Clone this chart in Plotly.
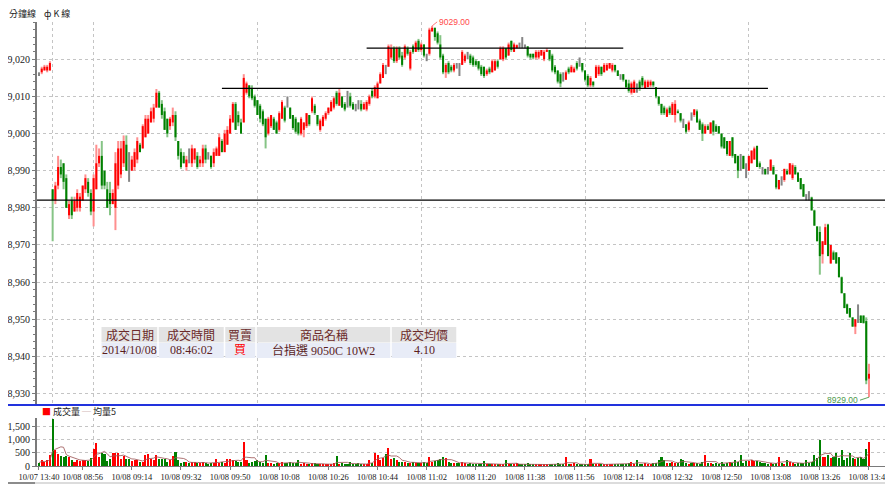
import plotly.graph_objects as go
import pandas as pd

# ---------------- data ----------------
opens = [
    9016, 9016.5, 9017, 9017, 9017, 8985, 8982, 8986, 8991, 8992,
    8988, 8978, 8982, 8979, 8980, 8980, 8982, 8985, 8987, 8984,
    8979, 8985, 8992, 8994, 8990, 8985, 8984, 8981, 8980, 8986,
    8989, 8992, 8997, 8993, 8990, 8991, 8993, 8997, 8996, 8999,
    9000, 9003, 9004, 9007, 9011, 9008, 9006, 9004, 9002, 9003,
    9005, 8998, 8995, 8994, 8991, 8993, 8992, 8993, 8994, 8992,
    8992, 8996, 8993, 8994, 8992, 8994, 8994, 8998, 8995, 8997,
    9000, 9003, 9008, 9005, 9003, 9003, 9011, 9013, 9012, 9010,
    9009, 9007.5, 9006, 9004, 9000, 9002, 9004, 9003, 9001, 9004,
    9007, 9008, 9007, 9005, 9004, 9003, 9000, 9001, 9002, 9005,
    9006, 9007.5, 9005, 9001, 9002, 9004, 9005.5, 9006, 9007, 9011,
    9007.5, 9010, 9008, 9008, 9010, 9008, 9007, 9008, 9008, 9006.5,
    9006.5, 9008, 9011.5, 9010, 9009.5, 9013.5, 9015, 9017.5, 9018, 9020.5,
    9023, 9019.5, 9023, 9021, 9020.5, 9023, 9017.5, 9023.5, 9022, 9025,
    9022.5, 9024, 9021, 9021.5, 9027.5, 9028.5, 9027, 9024, 9021, 9016.5,
    9019, 9018, 9017, 9018, 9018, 9018.5, 9019.5, 9021, 9021, 9020.5,
    9019.5, 9019.5, 9018, 9018, 9016, 9017.5, 9016.5, 9017, 9019.5, 9020,
    9020, 9023, 9021, 9025, 9022, 9023, 9024, 9024, 9023.5, 9023.5,
    9021.5, 9021.5, 9020.5, 9020.5, 9021, 9020, 9022, 9022.5, 9021, 9018,
    9017, 9016, 9015.5, 9014.5, 9017.5, 9016.5, 9016.5, 9019, 9019, 9019,
    9017, 9015.5, 9013, 9014, 9015, 9016, 9018, 9016.5, 9017, 9017.5,
    9017, 9018.5, 9017, 9015.5, 9016, 9014.5, 9013.5, 9011, 9011, 9013,
    9014, 9015, 9012, 9012.5, 9013, 9014, 9012.5, 9010, 9008, 9007,
    9004.5, 9007, 9005, 9005, 9006, 9005.5, 9003, 9002.5, 9001, 9004.5,
    9005, 9006, 9003.5, 9002.5, 9000, 9002, 9000, 9003.5, 9002, 9002,
    9000, 8999, 8998, 8994, 8999, 8994.5, 8994, 8993, 8994, 8990,
    8990, 8992, 8993, 8996.7, 8992, 8990.5, 8990.5, 8990, 8990, 8991,
    8989, 8985, 8987.5, 8987.5, 8990, 8989, 8988, 8991, 8989.5, 8988,
    8986.4, 8983, 8983.5, 8982.8, 8979.3, 8975, 8973.5, 8967.5, 8970, 8975.5,
    8965, 8968, 8968, 8966.7, 8961.3, 8957, 8954, 8953, 8950.5, 8948,
    8951, 8951, 8951, 8949.5, 8934,
]

highs = [
    9016.5, 9018, 9018.5, 9018.5, 9019.5, 8985, 8987, 8994, 8993, 8992,
    8989, 8982, 8983, 8983, 8985, 8984, 8986, 8989, 8988, 8985,
    8989, 8997, 8996, 8998, 8990, 8987, 8987, 8985, 8995, 8998,
    8998, 8999.5, 8999.5, 8995, 8994, 8996, 8999, 8997.5, 9002.5, 9005,
    9005, 9007, 9008, 9012, 9011.5, 9009, 9007, 9004, 9004.5, 9007,
    9006, 8998, 8996, 8995, 8994, 8996, 8997, 8996, 8995, 8994,
    8997, 8997, 8995, 8994, 8996, 8996.5, 9000, 8998.5, 9001, 9002,
    9005, 9008.5, 9008.5, 9006, 9004, 9016, 9014, 9013, 9013, 9010.5,
    9009, 9008, 9006.5, 9004, 9004.5, 9005, 9004.5, 9003.5, 9006, 9009,
    9007.5, 9010, 9007, 9005, 9004.5, 9003, 9004.5, 9003, 9005.5, 9005,
    9010, 9008, 9005, 9004, 9005, 9006, 9007, 9009, 9010, 9011.5,
    9012, 9010, 9008.5, 9011.5, 9011, 9008.5, 9008, 9009, 9009, 9008.5,
    9009, 9010.5, 9012, 9013, 9014, 9016.5, 9019, 9018.5, 9024, 9024,
    9023.5, 9023.5, 9023.5, 9022, 9024, 9023.5, 9022.5, 9024, 9025, 9025.5,
    9024.5, 9024, 9021.5, 9028.5, 9029, 9028.5, 9027.5, 9026.5, 9021.5, 9019,
    9019.5, 9018.5, 9019, 9019, 9019, 9022.5, 9021.5, 9022, 9021.5, 9021,
    9020, 9019.5, 9018.5, 9018, 9017.5, 9018, 9020, 9020, 9020, 9023.5,
    9023.5, 9023, 9024.5, 9025, 9024.5, 9024, 9024.5, 9026, 9024, 9023.5,
    9021.5, 9021.5, 9022.5, 9022.5, 9022.5, 9022.5, 9023, 9022.5, 9021.5, 9018.5,
    9017, 9016.5, 9016.5, 9017, 9018, 9018.5, 9018, 9019.5, 9020.5, 9019,
    9017, 9016, 9015.5, 9014, 9018.5, 9018.5, 9018, 9019, 9019, 9019,
    9019, 9018.5, 9017, 9016, 9016, 9014.5, 9014.5, 9014, 9014.5, 9013.5,
    9014.5, 9015.5, 9014.5, 9014.5, 9014.5, 9014, 9012.5, 9010, 9008, 9007.5,
    9007, 9007.5, 9008.5, 9009, 9006.5, 9005.5, 9004, 9002.5, 9003.5, 9005.7,
    9006.6, 9006.5, 9004, 9003, 9002.5, 9002.5, 9003, 9003.5, 9002.5, 9002,
    9000, 8999, 8998, 8998, 8999, 8994.5, 8994, 8994.5, 8994, 8992,
    8994, 8995.5, 8996.5, 8996.7, 8992.5, 8991, 8990.5, 8991, 8993, 8991.5,
    8989, 8987.5, 8988.5, 8990.5, 8990.5, 8992, 8992, 8991.5, 8989.5, 8988,
    8986.4, 8983.7, 8984.5, 8983, 8979.5, 8975, 8975, 8971, 8975.7, 8975.7,
    8970, 8968.5, 8968, 8966.7, 8961.5, 8957, 8954.2, 8953, 8950.5, 8950,
    8954, 8951, 8951, 8950.5, 8938,
]

lows = [
    9015.5, 9016, 9017, 9016.5, 9017, 8971, 8981, 8985, 8988, 8985,
    8980, 8977, 8977, 8979, 8979, 8979, 8982, 8984, 8983, 8978,
    8975, 8985, 8991, 8985, 8985, 8980, 8978, 8981, 8974, 8985,
    8988, 8991, 8990, 8987, 8990, 8990, 8992, 8995, 8996, 8999,
    9000, 9003, 9003, 9007, 9007, 9004, 9001, 8999, 9001, 9002,
    8998, 8993, 8990.5, 8992, 8990, 8992, 8991, 8992, 8990.5, 8991,
    8991, 8992, 8993, 8990.5, 8991, 8994, 8994, 8995, 8995, 8997,
    9000, 9003, 9001, 9002, 9000, 9003, 9010.5, 9009.5, 9009, 9007,
    9005, 9003, 9002, 8996, 8999.5, 9001.5, 9001, 9000, 9000.5, 9004,
    9003, 9007, 9004, 9001, 9000, 8999.5, 8999.5, 8999, 9001.5, 9002,
    9005.5, 9005, 9002, 9000.5, 9002, 9003.5, 9005, 9006, 9006.5, 9007.5,
    9007.5, 9007, 9006, 9007, 9007, 9006.5, 9006, 9006.5, 9006, 9006.5,
    9006, 9007.5, 9009.5, 9009.5, 9009.5, 9013.5, 9015, 9016, 9018, 9020,
    9019, 9019, 9020, 9018, 9020, 9021, 9017, 9021.5, 9022, 9022,
    9022, 9020.5, 9019.5, 9021, 9027.5, 9025, 9024, 9020, 9016, 9015,
    9016, 9016.5, 9016.5, 9017.5, 9015.5, 9018.5, 9019, 9020, 9018.5, 9018,
    9018, 9017, 9015.5, 9015, 9015.5, 9016, 9016.5, 9017, 9017.5, 9020,
    9019.5, 9020, 9021, 9022, 9022, 9023, 9023, 9023, 9023, 9020.5,
    9020, 9020, 9020, 9020, 9021, 9019.5, 9022, 9019.5, 9016.5, 9016,
    9013.5, 9012.5, 9014, 9014.5, 9016, 9016.5, 9016.5, 9017, 9018, 9016.5,
    9014, 9012.5, 9012.5, 9012.5, 9015, 9015.5, 9015.5, 9016.5, 9017, 9017.5,
    9016.5, 9016.5, 9015.5, 9014.5, 9014, 9012, 9011, 9010.5, 9011, 9011,
    9011.5, 9012.5, 9012, 9012.5, 9012.5, 9012.5, 9009.5, 9007.5, 9005, 9005,
    9004.5, 9005, 9005, 9003, 9005.5, 9003, 9001.5, 9000, 9000.5, 9003.5,
    9004.5, 9003, 9001, 8998, 9000, 9001, 9000, 8999.5, 9000.5, 9000,
    8996, 8996, 8994, 8994, 8993.5, 8992, 8988, 8990, 8990.5, 8988,
    8990, 8992, 8993, 8991, 8990.5, 8989, 8989, 8989, 8990, 8989,
    8985, 8985, 8986, 8987, 8989, 8989, 8987.5, 8989, 8987, 8985,
    8983, 8982, 8982, 8979.3, 8975.2, 8971, 8962, 8965, 8970, 8967,
    8965, 8966, 8965, 8961.3, 8957, 8953, 8951.5, 8950.5, 8948, 8946,
    8949, 8949, 8948.8, 8932.5, 8929,
]

closes = [
    9016, 9017.5, 9018, 9018, 9019, 8982, 8986, 8991, 8989, 8987,
    8980, 8981, 8978, 8982, 8984, 8983, 8986, 8988, 8984, 8979,
    8988, 8992, 8994, 8986, 8986, 8980, 8981, 8984, 8992, 8996,
    8996, 8998, 8990, 8993, 8993, 8995, 8998, 8995, 9002, 9004,
    9004, 9006, 9007, 9011, 9007, 9005, 9001, 9000, 9004, 9005,
    8999, 8994, 8991, 8992, 8993, 8993, 8996, 8996, 8991, 8993,
    8996, 8993, 8993, 8991, 8995, 8996, 8999, 8995, 9000, 9001,
    9004, 9008, 9001, 9003, 9000, 9015, 9013.5, 9010, 9009.5, 9007.5,
    9005, 9004, 9002.5, 8999, 9004, 9005, 9001, 9000, 9005.5, 9008.5,
    9003.5, 9008, 9004, 9001.5, 9000.5, 9000, 9004, 9003, 9005.5, 9002.5,
    9009.5, 9005.5, 9002.5, 9003.5, 9004.5, 9005.5, 9007, 9008.5, 9009.5, 9008,
    9011, 9007, 9006.5, 9008, 9007.5, 9006.5, 9007, 9008, 9006.5, 9008,
    9008.5, 9010, 9010, 9012.5, 9013.5, 9016, 9018.5, 9017.5, 9023.5, 9023,
    9019.5, 9023, 9020.5, 9018.5, 9023.5, 9021.5, 9022, 9022, 9024.5, 9022.5,
    9024, 9021, 9021, 9028, 9028.5, 9026, 9024.5, 9020.5, 9016.5, 9018.5,
    9016.5, 9017, 9018.5, 9018, 9018, 9022, 9021, 9021, 9019, 9018.5,
    9018.5, 9017.5, 9016, 9015.5, 9017, 9016.5, 9019.5, 9019.5, 9018, 9023,
    9023, 9020.5, 9024, 9022.5, 9024, 9023.8, 9024, 9024, 9023.5, 9021,
    9020.5, 9020.5, 9022, 9022, 9022.5, 9022, 9022.5, 9020, 9017, 9016.5,
    9014, 9013.5, 9015.5, 9016.5, 9016.5, 9018, 9017.5, 9017.5, 9019, 9017,
    9014.5, 9013, 9015, 9013, 9018, 9018, 9016, 9018.5, 9018.5, 9019,
    9018.5, 9017, 9015.5, 9015.5, 9014.5, 9012.5, 9011.5, 9013.5, 9014, 9013,
    9012, 9013, 9014, 9014, 9014, 9013, 9010, 9008, 9005.5, 9005.5,
    9006.5, 9005.5, 9008, 9008, 9005.5, 9003.5, 9003, 9000.5, 9003, 9004.5,
    9006.5, 9003, 9001, 9000, 9002, 9001, 9003, 9000.5, 9000.5, 9000,
    8996.5, 8996, 8994.5, 8998, 8994, 8992, 8990, 8993, 8990.5, 8990,
    8994, 8995.4, 8996, 8991, 8991, 8990.5, 8989, 8990, 8993, 8989,
    8985.5, 8987.5, 8987.5, 8990.5, 8989, 8992, 8991.5, 8989, 8987, 8985,
    8983, 8983, 8983.5, 8979.3, 8975.2, 8971, 8967, 8971, 8974.8, 8967,
    8970, 8966, 8965, 8961.3, 8957, 8953, 8951.5, 8950.5, 8948, 8950,
    8951, 8949, 8949, 8933.5, 8935.3,
]

volumes = [
    125, 225, 150, 225, 410, 1760, 600, 450, 375, 325,
    375, 325, 225, 160, 225, 200, 225, 225, 200, 290,
    640, 850, 325, 475, 450, 200, 275, 475, 475, 475,
    250, 375, 275, 250, 175, 225, 225, 160, 150, 400,
    450, 250, 225, 400, 275, 275, 250, 160, 225, 375,
    540, 225, 100, 160, 150, 100, 160, 160, 100, 125,
    150, 100, 75, 100, 125, 250, 125, 160, 125, 250,
    250, 225, 200, 150, 160, 910, 225, 100, 150, 175,
    225, 160, 100, 410, 100, 100, 75, 100, 125, 150,
    100, 100, 150, 100, 125, 225, 75, 100, 60, 75,
    125, 100, 60, 75, 50, 75, 60, 50, 100, 375,
    75, 100, 60, 75, 160, 75, 60, 100, 75, 50,
    75, 225, 125, 500, 410, 225, 290, 450, 660, 250,
    290, 225, 160, 160, 150, 100, 125, 150, 100, 125,
    100, 150, 125, 350, 160, 190, 225, 275, 350, 290,
    150, 125, 100, 125, 100, 150, 100, 75, 100, 60,
    75, 50, 75, 190, 60, 50, 75, 50, 60, 75,
    50, 225, 60, 50, 75, 100, 50, 40, 60, 100,
    50, 60, 40, 50, 75, 60, 50, 40, 75, 60,
    100, 75, 60, 325, 75, 60, 100, 50, 60, 75,
    50, 60, 250, 60, 50, 75, 60, 50, 75, 60,
    50, 40, 60, 50, 75, 60, 100, 160, 75, 225,
    60, 75, 100, 75, 60, 100, 125, 225, 325, 225,
    100, 125, 150, 100, 125, 250, 225, 100, 75, 100,
    125, 100, 75, 150, 410, 100, 125, 75, 100, 60,
    150, 75, 100, 160, 125, 225, 150, 410, 125, 200,
    200, 225, 200, 175, 150, 125, 100, 75, 100, 75,
    125, 325, 100, 75, 225, 150, 100, 75, 100, 125,
    100, 225, 125, 150, 410, 300, 975, 325, 350, 410,
    290, 325, 475, 290, 600, 225, 290, 475, 290, 250,
    290, 350, 250, 625, 910,
]

tick_labels = [
    "10/07 13:40", "10/08 08:56", "10/08 09:14", "10/08 09:32", "10/08 09:50",
    "10/08 10:08", "10/08 10:26", "10/08 10:44", "10/08 11:02", "10/08 11:20",
    "10/08 11:38", "10/08 11:56", "10/08 12:14", "10/08 12:32", "10/08 12:50",
    "10/08 13:08", "10/08 13:26", "10/08 13:44",
]
price_ticks = [8930, 8940, 8950, 8960, 8970, 8980, 8990, 9000, 9010, 9020]
volume_ticks = [0, 500, 1000, 1500]

# user-drawn horizontal levels: price, start time, end time (None = full width)
level_prices = [9023.0, 9012.2, 8982.1]
level_starts = ["10/08 10:40", "10/08 09:47", None]
level_ends = ["10/08 12:14", "10/08 13:07", None]

table_header = ["成交日期", "成交時間", "買賣", "商品名稱", "成交均價"]
table_row = ["2014/10/08", "08:46:02", "買", "台指選 9050C 10W2", "4.10"]

# ---------------- derived ----------------
n = len(closes)
assert len(opens) == n and len(highs) == n and len(lows) == n and len(volumes) == n
highs = [max(h, o, c) for h, o, c in zip(highs, opens, closes)]
lows = [min(l, o, c) for l, o, c in zip(lows, opens, closes)]

times = list(pd.date_range("2014-10-07 13:40", periods=5, freq="min")) + \
    list(pd.date_range("2014-10-08 08:45", "2014-10-08 13:44", freq="min"))
assert len(times) == n
tlabels = [t.strftime("%m/%d %H:%M") for t in times]
xs = list(range(n))
tick_idx = [tlabels.index(s) for s in tick_labels]
hour_idx = [i for i, t in enumerate(times)
            if t.minute == 0 or (i > 0 and times[i - 1].date() != t.date())]

up = [i for i in xs if closes[i] > opens[i]]
dn = [i for i in xs if closes[i] < opens[i]]
dj = [i for i in xs if closes[i] == opens[i]]


def segs(idx, a, b):
    X, Y = [], []
    for i in idx:
        X += [i, i, None]
        Y += [a[i], b[i], None]
    return X, Y


UP_BODY, UP_WICK = "#ff0000", "#ff8f8f"
DN_BODY, DN_WICK = "#008000", "#86c486"
DOJI = "#858585"
GRID = "#c4c4c4"
AXIS = "#7a7a7a"
NUMFONT = "Liberation Serif, Times New Roman, serif"
LBLFONT = "Liberation Sans, Arial, sans-serif"
CJK = "Noto Sans CJK TC, sans-serif"
SERIF_CJK = "Liberation Serif, Noto Sans CJK TC, serif"

# The page body has an 8px margin, so the figure starts at window pixel (8, 8).
OFF = 8
FIG_W, FIG_H = 893 - OFF, 490 - OFF
# plot area, in window pixels
L, R, T, B = 37, 893, 22, 466
MAIN_BOTTOM_PX, VOL_TOP_PX = 405, 418


def px(x):
    return (x - L) / (R - L)


def py(y):
    return (B - y) / (B - T)


XR = [-0.73, 312.8]

fig = go.Figure()
for idx, col in ((up, UP_WICK), (dn, DN_WICK), (dj, DOJI)):
    X, Y = segs(idx, lows, highs)
    fig.add_trace(go.Scatter(x=X, y=Y, mode="lines", line=dict(color=col, width=2),
                             hoverinfo="skip", xaxis="x", yaxis="y"))
for idx, col in ((up, UP_BODY), (dn, DN_BODY)):
    X, Y = segs(idx, opens, closes)
    fig.add_trace(go.Scatter(x=X, y=Y, mode="lines", line=dict(color=col, width=2),
                             hoverinfo="skip", xaxis="x", yaxis="y"))

vol_colors = [UP_BODY if closes[i] > opens[i] else DN_BODY for i in xs]
fig.add_trace(go.Bar(x=xs, y=volumes, width=0.75, marker=dict(color=vol_colors, line=dict(width=0)),
                     hoverinfo="skip", xaxis="x2", yaxis="y2"))
ma5 = pd.Series(volumes).rolling(5, min_periods=1).mean().tolist()
fig.add_trace(go.Scatter(x=xs, y=ma5, mode="lines", line=dict(color="rgba(160,90,90,0.85)", width=1),
                         hoverinfo="skip", xaxis="x2", yaxis="y2"))

minor_x = dict(tickmode="array", tickvals=hour_idx, showgrid=True, gridcolor=GRID,
               griddash="dot", gridwidth=1, ticks="")
numfont = dict(family=NUMFONT, size=10, color="#1a1a1a")

fig.update_layout(
    width=FIG_W, height=FIG_H,
    margin=dict(l=L - OFF, r=(OFF + FIG_W) - R, t=T - OFF, b=(OFF + FIG_H) - B, autoexpand=False),
    paper_bgcolor="white", plot_bgcolor="white",
    showlegend=False, hovermode=False, bargap=0,
    xaxis=dict(domain=[0, 1], range=XR, anchor="y", tickmode="array", tickvals=tick_idx,
               showticklabels=False, showgrid=False, zeroline=False, showline=False,
               ticks="", minor=minor_x, automargin=False),
    yaxis=dict(domain=[py(MAIN_BOTTOM_PX), 1], range=[8926.9, 9030.05],
               tickmode="array", tickvals=price_ticks, tickformat=",d",
               showgrid=True, gridcolor=GRID, griddash="dot", zeroline=False,
               showline=True, linecolor=AXIS, linewidth=2,
               ticks="outside", ticklen=3, tickcolor=AXIS, tickfont=numfont, automargin=False,
               minor=dict(dtick=2, ticks="outside", ticklen=2, tickcolor=AXIS, showgrid=False)),
    xaxis2=dict(domain=[0, 1], range=XR, anchor="y2", tickmode="array", tickvals=tick_idx,
                ticktext=tick_labels, tickangle=0, showgrid=False, zeroline=False,
                showline=True, linecolor=AXIS, linewidth=1, automargin=False,
                ticks="outside", ticklen=3, tickcolor=AXIS, tickfont=dict(numfont, size=8.5),
                minor=minor_x),
    yaxis2=dict(domain=[0, py(VOL_TOP_PX)], range=[0, 1800],
                tickmode="array", tickvals=volume_ticks, tickformat=",d",
                showgrid=True, gridcolor=GRID, griddash="dot", zeroline=False,
                showline=True, linecolor=AXIS, linewidth=2, automargin=False,
                ticks="outside", ticklen=3, tickcolor=AXIS, tickfont=numfont),
)

shapes = []
# separator line between price and volume panels
shapes.append(dict(type="line", xref="paper", yref="paper", x0=px(0), x1=px(893),
                   y0=py(MAIN_BOTTOM_PX), y1=py(MAIN_BOTTOM_PX),
                   line=dict(color="#2233dd", width=2)))
# bottom scrollbar strip
shapes.append(dict(type="line", xref="paper", yref="paper", x0=px(0), x1=px(893),
                   y0=py(483), y1=py(483), line=dict(color="#dcdcdc", width=2)))
shapes.append(dict(type="line", xref="paper", yref="paper", x0=px(8), x1=px(35),
                   y0=py(483), y1=py(483), line=dict(color="#8c8c8c", width=2)))
# drawn levels
for p, s, e in zip(level_prices, level_starts, level_ends):
    if s is None:
        shapes.append(dict(type="line", xref="paper", yref="y", x0=0, x1=1, y0=p, y1=p,
                           line=dict(color="black", width=1.3)))
    else:
        shapes.append(dict(type="line", xref="x", yref="y", x0=tlabels.index(s), x1=tlabels.index(e),
                           y0=p, y1=p, line=dict(color="black", width=1.3)))

# trade table
col_edges = [101.5, 158, 224.5, 256, 391, 457]
hdr_top, hdr_bot, row_bot = 327, 342.5, 358
for k in range(len(table_header)):
    x0, x1 = col_edges[k] + (0 if k == 0 else 0.75), col_edges[k + 1] - 0.75
    shapes.append(dict(type="rect", xref="paper", yref="paper", x0=px(x0), x1=px(x1),
                       y0=py(hdr_bot), y1=py(hdr_top), fillcolor="#e3e3e3",
                       line=dict(width=0), layer="above"))
    shapes.append(dict(type="rect", xref="paper", yref="paper", x0=px(x0), x1=px(x1),
                       y0=py(row_bot), y1=py(hdr_bot + 0.5), fillcolor="#e8ecf7",
                       line=dict(width=0), layer="above"))

annotations = []
for k in range(len(table_header)):
    cx = (col_edges[k] + col_edges[k + 1]) / 2
    annotations.append(dict(xref="paper", yref="paper", x=px(cx), y=py((hdr_top + hdr_bot) / 2),
                            text=table_header[k], showarrow=False, xanchor="center", yanchor="middle",
                            font=dict(family=CJK, size=12, color="#6b2a2a")))
    annotations.append(dict(xref="paper", yref="paper", x=px(cx), y=py((hdr_bot + row_bot) / 2),
                            text=table_row[k], showarrow=False, xanchor="center", yanchor="middle",
                            font=dict(family=SERIF_CJK, size=12,
                                      color="#ff0000" if table_row[k] == "買" else "#5a1e1e")))

# header text (kept inside the figure, which starts 8px below the window top)
annotations.append(dict(xref="paper", yref="paper", x=px(7), y=py(13.5), text="分鐘線",
                        showarrow=False, xanchor="left", yanchor="middle",
                        font=dict(family=CJK, size=9, color="#222222")))
annotations.append(dict(xref="paper", yref="paper", x=px(42), y=py(13.5), text="ф K 線",
                        showarrow=False, xanchor="left", yanchor="middle",
                        font=dict(family=CJK, size=9, color="#222222")))
# volume legend
annotations.append(dict(xref="paper", yref="paper", x=px(40), y=py(411),
                        text='<span style="color:#ff0000">■</span> 成交量 '
                             '<span style="color:#a05a5a">─</span> 均量5',
                        showarrow=False, xanchor="left", yanchor="middle",
                        font=dict(family=CJK, size=9, color="#222222")))

# max / min labels
imax = max(xs, key=lambda i: highs[i])
imin = min(xs, key=lambda i: lows[i])
annotations.append(dict(xref="x", yref="y", x=imax, y=highs[imax], text=f"{highs[imax]:.2f}",
                        showarrow=True, arrowhead=0, arrowwidth=1, arrowcolor="#ff7a7a",
                        ax=5, ay=-4, xanchor="left", yanchor="middle", standoff=0,
                        font=dict(family=LBLFONT, size=8.5, color="#ff4a4a")))
annotations.append(dict(xref="x", yref="y", x=imin, y=lows[imin], text=f"{lows[imin]:.2f}",
                        showarrow=True, arrowhead=0, arrowwidth=1, arrowcolor="#5aa55a",
                        ax=-9, ay=3, xanchor="right", yanchor="middle", standoff=0,
                        font=dict(family=LBLFONT, size=8.5, color="#4c9a4c")))

fig.update_layout(shapes=shapes, annotations=annotations)
fig.write_html("out.html")
